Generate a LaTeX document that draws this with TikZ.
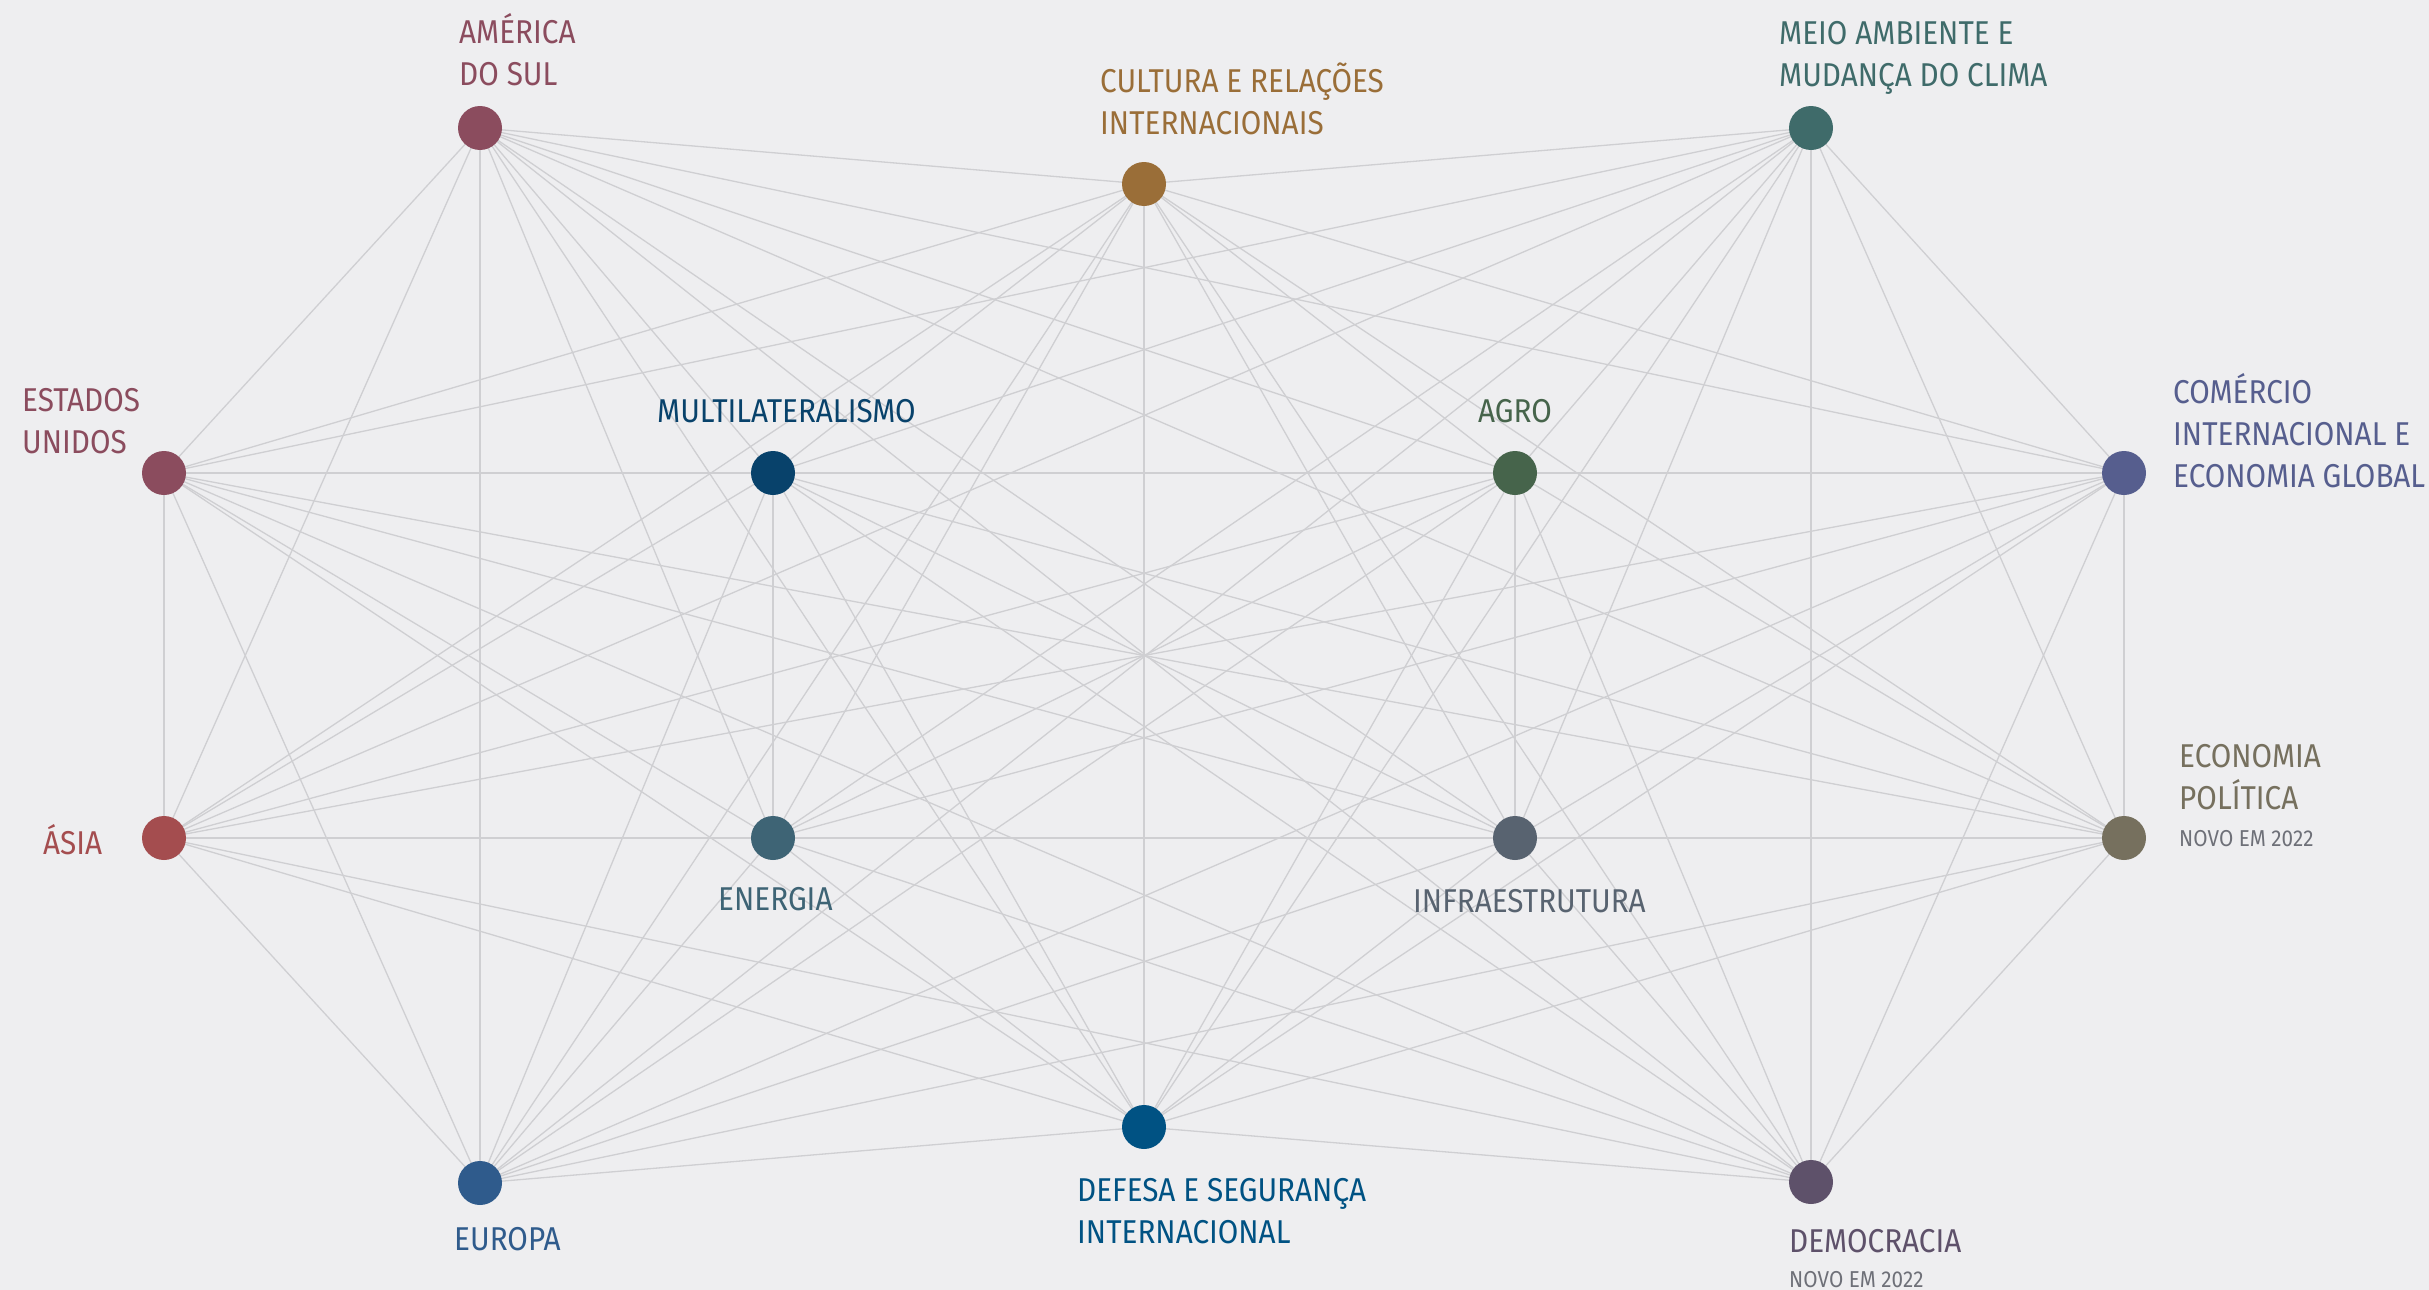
\documentclass[tikz,border=0pt]{standalone}
\usepackage{fontspec}
\setmainfont{Fira Sans}[FakeStretch=0.9]
\usetikzlibrary{backgrounds}
\definecolor{bgc}{HTML}{EEEEF0}
\definecolor{linec}{HTML}{CFCFD2}
\definecolor{cAm}{HTML}{8B4C5E}
\definecolor{cCu}{HTML}{9A6E38}
\definecolor{cMe}{HTML}{3F6B6A}
\definecolor{cMu}{HTML}{08426B}
\definecolor{cAg}{HTML}{46644B}
\definecolor{cCo}{HTML}{565E8E}
\definecolor{cAs}{HTML}{A44D4F}
\definecolor{cEn}{HTML}{3E6475}
\definecolor{cIn}{HTML}{586370}
\definecolor{cEp}{HTML}{76705E}
\definecolor{cEu}{HTML}{2F5B8C}
\definecolor{cDe}{HTML}{005283}
\definecolor{cDm}{HTML}{5E516A}
\definecolor{novo}{HTML}{6E7078}
\begin{document}
\begin{tikzpicture}[x=1pt,y=-1pt,
  dot/.style={circle,inner sep=0pt,minimum size=44pt,fill=#1},
  lbl/.style={anchor=base west,inner sep=0pt,align=left,text=#1,font=\fontsize{33}{42}\selectfont},
  sub/.style={anchor=base west,inner sep=0pt,text=novo,font=\fontsize{23}{26}\selectfont},
  edge/.style={draw=linec,line width=1.3pt}]
\useasboundingbox (0,0) rectangle (2429,1290);
% nodes
\node[dot=cAm] (n1) at (480,128) {};
\node[dot=cCu] (n2) at (1144,184) {};
\node[dot=cMe] (n3) at (1811,128) {};
\node[dot=cAm] (n4) at (164,473) {};
\node[dot=cMu] (n5) at (773,473) {};
\node[dot=cAg] (n6) at (1515,473) {};
\node[dot=cCo] (n7) at (2124,473) {};
\node[dot=cAs] (n8) at (164,838) {};
\node[dot=cEn] (n9) at (773,838) {};
\node[dot=cIn] (n10) at (1515,838) {};
\node[dot=cEp] (n11) at (2124,838) {};
\node[dot=cEu] (n12) at (480,1183) {};
\node[dot=cDe] (n13) at (1144,1127) {};
\node[dot=cDm] (n14) at (1811,1182) {};
% labels (base anchor = baseline of last line)
\node[lbl=cAm] (l1) at (459,85) {AMÉRICA\\DO SUL};
\node[lbl=cCu] (l2) at (1100,134) {CULTURA E RELAÇÕES\\INTERNACIONAIS};
\node[lbl=cMe] (l3) at (1779,86) {MEIO AMBIENTE E\\MUDANÇA DO CLIMA};
\node[lbl=cAm] (l4) at (22,453) {ESTADOS\\UNIDOS};
\node[lbl=cMu] (l5) at (657,422) {MULTILATERALISMO};
\node[lbl=cAg] (l6) at (1478,422) {AGRO};
\node[lbl=cCo] (l7) at (2173,487) {COMÉRCIO\\INTERNACIONAL E\\ECONOMIA GLOBAL};
\node[lbl=cAs] (l8) at (43,854) {ÁSIA};
\node[lbl=cEn] (l9) at (718,910) {ENERGIA};
\node[lbl=cIn] (l10) at (1413,912) {INFRAESTRUTURA};
\node[lbl=cEp] (l11) at (2179,809) {ECONOMIA\\POLÍTICA};
\node[sub] (s11) at (2179,846) {NOVO EM 2022};
\node[lbl=cEu] (l12) at (454,1250) {EUROPA};
\node[lbl=cDe] (l13) at (1077,1243) {DEFESA E SEGURANÇA\\INTERNACIONAL};
\node[lbl=cDm] (l14) at (1789,1252) {DEMOCRACIA};
\node[sub] (s14) at (1789,1287) {NOVO EM 2022};
\begin{pgfonlayer}{background}
\fill[bgc] (0,0) rectangle (2429,1290);
\foreach \i in {1,...,13}{
  \pgfmathtruncatemacro{\s}{\i+1}
  \foreach \j in {\s,...,14}{
    \pgfmathtruncatemacro{\skip}{(\i==1 && \j==3) || (\i==12 && \j==14)}
    \ifnum\skip=0
      \draw[edge] (n\i.center) -- (n\j.center);
    \fi
  }
}
\end{pgfonlayer}
\end{tikzpicture}
\end{document}
